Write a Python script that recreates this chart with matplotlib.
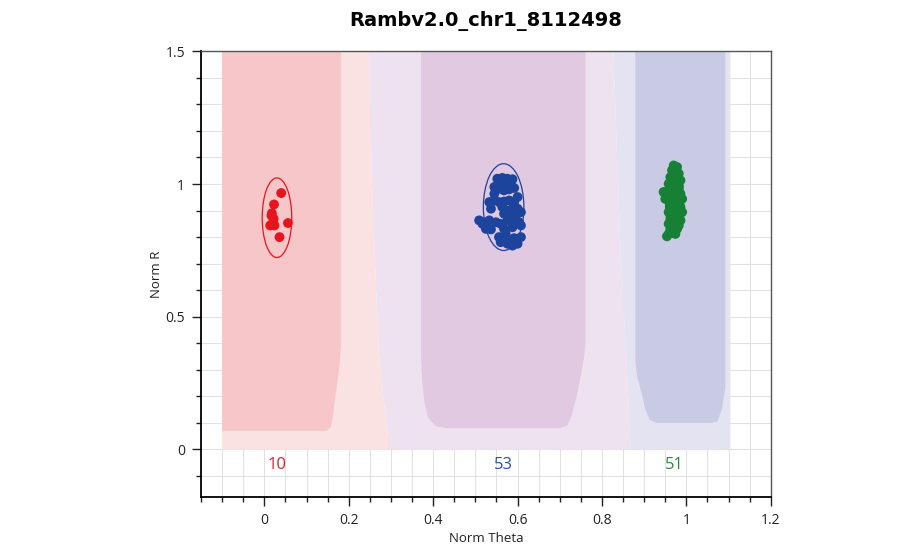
import numpy as np
import matplotlib
matplotlib.use('Agg')
import matplotlib.pyplot as plt
from matplotlib.patches import Ellipse, Polygon
from matplotlib.ticker import MultipleLocator, FuncFormatter

plt.rcParams['font.family'] = ['Open Sans', 'DejaVu Sans']

title = 'Rambv2.0_chr1_8112498'

# cluster points (norm theta, norm R)
aa_theta = [0.040, 0.023, 0.018, 0.022, 0.014, 0.024, 0.056, 0.036, 0.021, 0.017]
aa_r = [0.966, 0.923, 0.890, 0.869, 0.844, 0.844, 0.853, 0.800, 0.856, 0.881]

ab_theta = [0.552, 0.564, 0.576, 0.588, 0.560, 0.572, 0.584, 0.545, 0.556, 0.568, 0.580, 0.592,
            0.533, 0.545, 0.556, 0.568, 0.580, 0.592, 0.537, 0.564, 0.576, 0.588, 0.600, 0.608,
            0.568, 0.584, 0.596, 0.509, 0.521, 0.533, 0.549, 0.560, 0.576, 0.592, 0.604, 0.525,
            0.537, 0.568, 0.588, 0.608, 0.517, 0.556, 0.568, 0.580, 0.592, 0.608, 0.560, 0.576,
            0.600, 0.588, 0.572, 0.545, 0.600]
ab_r = [1.020, 1.023, 1.020, 1.018, 1.001, 1.005, 0.997, 0.989, 0.982, 0.976, 0.980, 0.985,
        0.932, 0.938, 0.932, 0.934, 0.938, 0.932, 0.907, 0.913, 0.900, 0.907, 0.907, 0.894,
        0.888, 0.881, 0.881, 0.863, 0.856, 0.863, 0.856, 0.850, 0.863, 0.863, 0.856, 0.831,
        0.829, 0.831, 0.837, 0.844, 0.850, 0.800, 0.793, 0.787, 0.796, 0.800, 0.781, 0.775,
        0.775, 0.768, 0.812, 0.963, 0.951]

bb_theta = [0.970, 0.978, 0.966, 0.974, 0.982, 0.962, 0.970, 0.978, 0.986, 0.958, 0.966, 0.974,
            0.982, 0.946, 0.954, 0.962, 0.970, 0.978, 0.986, 0.958, 0.966, 0.974, 0.982, 0.962,
            0.970, 0.978, 0.986, 0.958, 0.966, 0.974, 0.982, 0.962, 0.970, 0.978, 0.986, 0.958,
            0.966, 0.974, 0.982, 0.962, 0.970, 0.978, 0.958, 0.966, 0.954, 0.974, 0.990, 0.950,
            0.990, 0.968, 0.972]
bb_r = [1.070, 1.064, 1.052, 1.045, 1.039, 1.026, 1.020, 1.020, 1.014, 1.001, 0.995, 0.997,
        0.992, 0.970, 0.970, 0.972, 0.963, 0.970, 0.963, 0.944, 0.938, 0.944, 0.938, 0.919,
        0.913, 0.919, 0.913, 0.894, 0.888, 0.894, 0.888, 0.869, 0.863, 0.869, 0.863, 0.850,
        0.844, 0.846, 0.844, 0.829, 0.825, 0.831, 0.812, 0.816, 0.803, 0.812, 0.944, 0.944,
        0.894, 1.033, 0.932]

# cluster ellipses: center theta, center R, width, height
ell_aa = [0.030, 0.873, 0.070, 0.300]
ell_ab = [0.567, 0.913, 0.096, 0.327]
ell_bb = [0.972, 0.938, 0.043, 0.277]

counts = ['10', '53', '51']
count_theta = [0.030, 0.567, 0.972]
count_r = -0.057

# background call regions, boundaries as (theta, R)
aa_light = [(-0.1, 0), (0.293, 0), (0.293, 0.05), (0.282, 0.2), (0.272, 0.35),
            (0.265, 0.6), (0.255, 1.0), (0.248, 1.5), (-0.1, 1.5)]
ab_light = [(0.293, 0), (0.868, 0), (0.856, 0.4), (0.844, 0.75), (0.827, 1.5),
            (0.248, 1.5), (0.255, 1.0), (0.265, 0.6), (0.272, 0.35), (0.282, 0.2), (0.293, 0.05)]
bb_light = [(0.868, 0), (1.104, 0), (1.104, 1.5), (0.827, 1.5), (0.844, 0.75), (0.856, 0.4)]

aa_dark = [(-0.1, 0.07), (0.148, 0.07), (0.158, 0.085), (0.163, 0.13), (0.168, 0.2),
           (0.174, 0.26), (0.179, 0.33), (0.182, 0.40), (0.182, 1.5), (-0.1, 1.5)]
ab_dark = [(0.371, 1.5), (0.371, 0.36), (0.374, 0.26), (0.379, 0.18), (0.388, 0.12),
           (0.405, 0.088), (0.43, 0.08), (0.70, 0.08), (0.718, 0.09), (0.728, 0.125),
           (0.740, 0.2), (0.750, 0.28), (0.757, 0.34), (0.761, 0.40), (0.761, 1.5)]
bb_dark = [(0.879, 1.5), (0.879, 0.33), (0.884, 0.27), (0.891, 0.23), (0.903, 0.15),
           (0.913, 0.112), (0.93, 0.10), (1.06, 0.10), (1.073, 0.105), (1.084, 0.15),
           (1.089, 0.2), (1.092, 0.23), (1.092, 1.5)]

fig = plt.figure(figsize=(9.22, 5.58), dpi=100)
ax = fig.add_axes([0.218, 0.109, 0.618, 0.799])

regions = [(aa_light, '#fbe2e2'), (ab_light, '#eee2f0'), (bb_light, '#e3e3f2'),
           (aa_dark, '#f7c6c8'), (ab_dark, '#e1c9e1'), (bb_dark, '#c9cae4')]
for pts, col in regions:
    ax.add_patch(Polygon(pts, closed=True, facecolor=col, edgecolor='none', zorder=1))

groups = [(aa_theta, aa_r, ell_aa, '#e8141c'),
          (ab_theta, ab_r, ell_ab, '#1c449c'),
          (bb_theta, bb_r, ell_bb, '#168035')]
for th, r, ell, col in groups:
    ax.scatter(th, r, s=50, color=col, edgecolors='none', zorder=3)
    ax.add_patch(Ellipse((ell[0], ell[1]), ell[2], ell[3], fill=False,
                         edgecolor=col, linewidth=0.9, zorder=4))

count_cols = ['#d8222c', '#2d4f9e', '#2a8a3c']
for lab, th, col in zip(counts, count_theta, count_cols):
    ax.text(th, count_r, lab, color=col, fontsize=12, ha='center', va='center', zorder=5)

ax.set_xlim(-0.15, 1.2)
ax.set_ylim(-0.18, 1.5)
ax.xaxis.set_major_locator(MultipleLocator(0.2))
ax.xaxis.set_minor_locator(MultipleLocator(0.05))
ax.yaxis.set_major_locator(MultipleLocator(0.5))
ax.yaxis.set_minor_locator(MultipleLocator(0.1))
fmt = FuncFormatter(lambda v, p: '{:g}'.format(round(v, 2)))
ax.xaxis.set_major_formatter(fmt)
ax.yaxis.set_major_formatter(fmt)

ax.set_axisbelow(True)
ax.grid(True, which='both', color='#e2e2e2', linewidth=0.8, zorder=0)
ax.tick_params(which='major', direction='out', length=6.5, width=1, pad=5,
               labelsize=10, colors='#222222')
ax.tick_params(which='minor', direction='out', length=3.5, width=1, colors='#222222')
for side in ['left', 'bottom']:
    ax.spines[side].set_color('black')
    ax.spines[side].set_linewidth(1.3)
for side in ['top', 'right']:
    ax.spines[side].set_color('#555555')
    ax.spines[side].set_linewidth(1.0)

ax.set_xlabel('Norm Theta', fontsize=9.5, labelpad=3, color='#222222')
ax.set_ylabel('Norm R', fontsize=9.5, labelpad=2, color='#222222')
ax.set_title(title, fontsize=14, fontweight='bold', pad=18, family='DejaVu Sans')

fig.savefig('out.png', dpi=100)
